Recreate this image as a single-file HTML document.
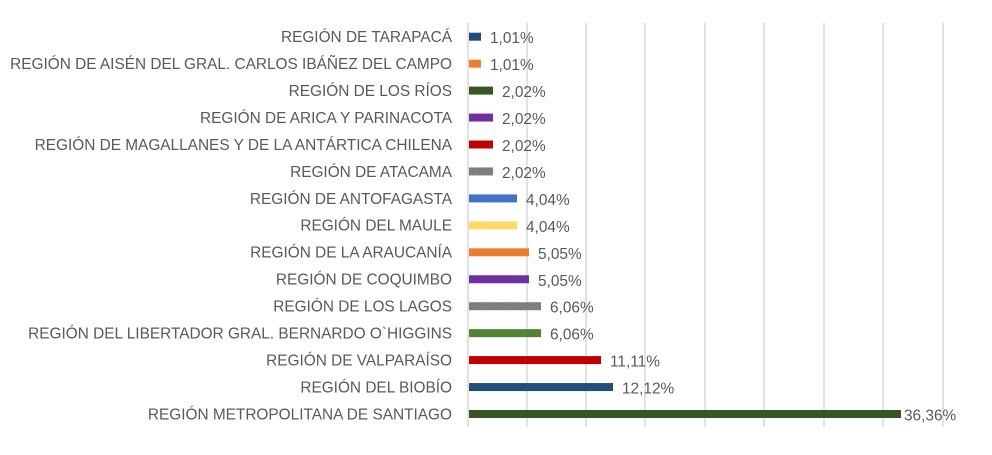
<!DOCTYPE html>
<html><head><meta charset="utf-8"><style>
body{margin:0;background:#fff;}
svg text{font-family:"Liberation Sans",sans-serif;font-size:15.4px;fill:#595959;}
</style></head><body>
<svg width="992" height="450" xmlns="http://www.w3.org/2000/svg">
<defs><pattern id="h" width="3" height="3" patternUnits="userSpaceOnUse"><rect width="3" height="3" fill="#8a8a8a"/><path d="M0 3L3 0" stroke="#6e6e6e" stroke-width="1"/></pattern></defs>
<g stroke="#d9d9d9" stroke-width="1.5">
<line x1="468" y1="23" x2="468" y2="427"/><line x1="527" y1="23" x2="527" y2="427"/><line x1="586" y1="23" x2="586" y2="427"/><line x1="645" y1="23" x2="645" y2="427"/><line x1="705" y1="23" x2="705" y2="427"/><line x1="764" y1="23" x2="764" y2="427"/><line x1="824" y1="23" x2="824" y2="427"/><line x1="883" y1="23" x2="883" y2="427"/><line x1="943" y1="23" x2="943" y2="427"/>
</g>
<g text-anchor="end">
<text x="452" y="42">REGIÓN DE TARAPACÁ</text>
<text x="452" y="69">REGIÓN DE AISÉN DEL GRAL. CARLOS IBÁÑEZ DEL CAMPO</text>
<text x="452" y="96">REGIÓN DE LOS RÍOS</text>
<text x="452" y="123">REGIÓN DE ARICA Y PARINACOTA</text>
<text x="452" y="150">REGIÓN DE MAGALLANES Y DE LA ANTÁRTICA CHILENA</text>
<text x="452" y="177">REGIÓN DE ATACAMA</text>
<text x="452" y="204">REGIÓN DE ANTOFAGASTA</text>
<text x="452" y="230.7">REGIÓN DEL MAULE</text>
<text x="452" y="257.7">REGIÓN DE LA ARAUCANÍA</text>
<text x="452" y="284.6">REGIÓN DE COQUIMBO</text>
<text x="452" y="311.6">REGIÓN DE LOS LAGOS</text>
<text x="452" y="338.5">REGIÓN DEL LIBERTADOR GRAL. BERNARDO O`HIGGINS</text>
<text x="452" y="365.5">REGIÓN DE VALPARAÍSO</text>
<text x="452" y="392.4">REGIÓN DEL BIOBÍO</text>
<text x="452" y="419.4">REGIÓN METROPOLITANA DE SANTIAGO</text>
</g>
<rect x="469" y="32.7" width="12" height="8" fill="#1f4e79"/>
<rect x="469" y="59.65" width="12" height="8" fill="#ed7d31"/>
<rect x="469" y="86.6" width="24" height="8" fill="#375623"/>
<rect x="469" y="113.55" width="24" height="8" fill="#7030a0"/>
<rect x="469" y="140.5" width="24" height="8" fill="#c00000"/>
<rect x="469" y="167.45" width="24" height="8" fill="url(#h)"/>
<rect x="469" y="194.4" width="48" height="8" fill="#4472c4"/>
<rect x="469" y="221.35" width="48" height="8" fill="#ffd966"/>
<rect x="469" y="248.3" width="60" height="8" fill="#ed7d31"/>
<rect x="469" y="275.25" width="60" height="8" fill="#7030a0"/>
<rect x="469" y="302.2" width="72" height="8" fill="url(#h)"/>
<rect x="469" y="329.15" width="72" height="8" fill="#548235"/>
<rect x="469" y="356.1" width="132" height="8" fill="#c00000"/>
<rect x="469" y="383.05" width="144" height="8" fill="#1f4e79"/>
<rect x="469" y="410" width="432" height="8" fill="#375623"/>
<text x="490" y="43">1,01%</text>
<text x="490" y="70">1,01%</text>
<text x="502" y="97">2,02%</text>
<text x="502" y="124">2,02%</text>
<text x="502" y="151">2,02%</text>
<text x="502" y="178">2,02%</text>
<text x="526" y="205">4,04%</text>
<text x="526" y="232">4,04%</text>
<text x="538" y="259">5,05%</text>
<text x="538" y="286">5,05%</text>
<text x="550" y="312.7">6,06%</text>
<text x="550" y="339.7">6,06%</text>
<text x="610" y="366.6">11,11%</text>
<text x="622" y="393.6">12,12%</text>
<text x="904" y="420.5">36,36%</text>
</svg>
</body></html>
